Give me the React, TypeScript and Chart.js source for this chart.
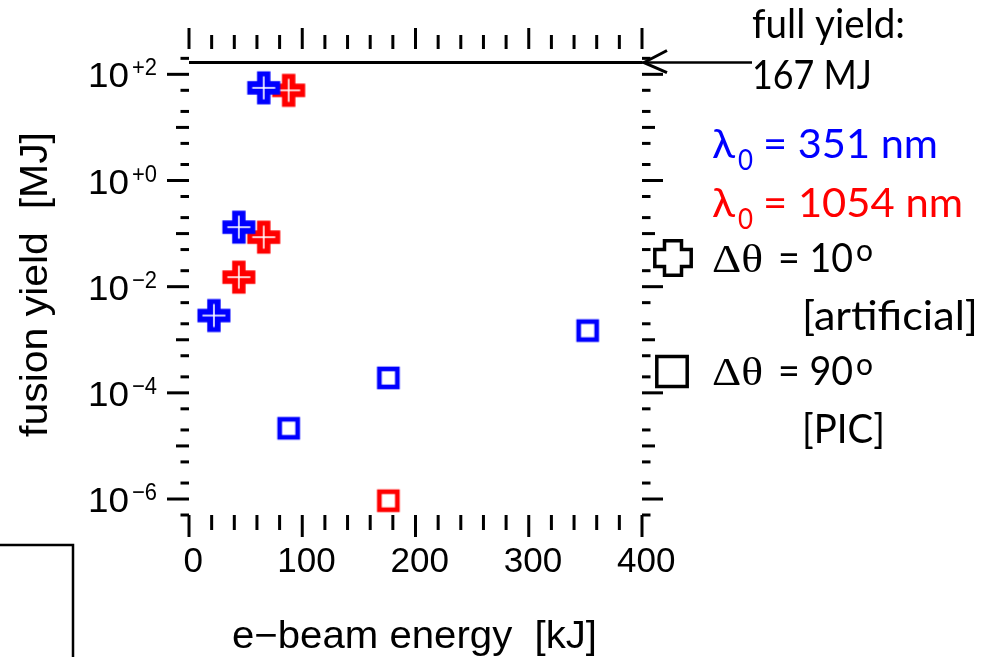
import React, { useEffect, useRef } from "react";
import { Chart, registerables } from "chart.js";

Chart.register(...registerables);

// ---- axis ranges & ticks ----
const X_MIN = 0;
const X_MAX = 400;
const Y_MIN = 5e-7;
const Y_MAX = 300;
const X_LABEL_TICKS = [0, 100, 200, 300, 400];
const X_LABELS = ["0", "100", "200", "300", "400"];
const X_MINOR_TICKS = [20, 40, 60, 80, 120, 140, 160, 180, 220, 240, 260, 280, 320, 340, 360, 380];
const Y_LABEL_TICKS = [1e2, 1e0, 1e-2, 1e-4, 1e-6];
const Y_LABEL_EXP = ["+2", "+0", "\u22122", "\u22124", "\u22126"];
const Y_DECADE_TICKS = [1e1, 1e-1, 1e-3, 1e-5];
const Y_MINOR_TICKS = [200, 50, 20, 5, 2, 0.5, 0.2, 0.05, 0.02, 5e-3, 2e-3, 5e-4, 2e-4, 5e-5, 2e-5, 5e-6, 2e-6, 5e-7];

// ---- data (x: e-beam energy kJ, y: fusion yield MJ) ----
const BLUE_CROSS_X = [22, 44, 66];
const BLUE_CROSS_Y = [0.00286, 0.132, 55.6];
const RED_CROSS_X = [44, 66, 88];
const RED_CROSS_Y = [0.0151, 0.0857, 49.9];
const BLUE_SQUARE_X = [88, 176, 352];
const BLUE_SQUARE_Y = [2.15e-5, 1.91e-4, 1.49e-3];
const RED_SQUARE_X = [176];
const RED_SQUARE_Y = [9.3e-7];
const FULL_YIELD = 167;
const FULL_YIELD_X = [0, 400];

const BLUE = "#0000ff";
const RED = "#ff0000";
const SANS = "'Liberation Sans', Arial, Helvetica, sans-serif";
const CAL = "Lato, 'Noto Sans', sans-serif";
const SERIF = "'Liberation Serif', 'Times New Roman', serif";

const pts = (xs: number[], ys: number[]) => xs.map((x, i) => ({ x, y: ys[i] }));

function makeCross(color: string) {
  const c = document.createElement("canvas");
  c.width = 36;
  c.height = 36;
  const g = c.getContext("2d")!;
  const m = 18, L = 16.5, a = 6.7;
  g.fillStyle = color;
  g.beginPath();
  g.moveTo(m - a, m - L); g.lineTo(m + a, m - L); g.lineTo(m + a, m - a); g.lineTo(m + L, m - a);
  g.lineTo(m + L, m + a); g.lineTo(m + a, m + a); g.lineTo(m + a, m + L); g.lineTo(m - a, m + L);
  g.lineTo(m - a, m + a); g.lineTo(m - L, m + a); g.lineTo(m - L, m - a); g.lineTo(m - a, m - a);
  g.closePath();
  g.fill();
  g.fillStyle = "#ffffff";
  g.fillRect(m - 11.5, m - 0.8, 23, 1.6);
  g.fillRect(m - 0.8, m - 11.5, 1.6, 23);
  return c;
}

function makeSquare(color: string) {
  const c = document.createElement("canvas");
  c.width = 26;
  c.height = 26;
  const g = c.getContext("2d")!;
  g.strokeStyle = color;
  g.lineWidth = 4.7;
  g.strokeRect(13 - 9, 13 - 9, 18, 18);
  return c;
}

function fitText(ctx: CanvasRenderingContext2D, s: string, x: number, y: number, font: string, color: string, width?: number) {
  ctx.save();
  ctx.font = font;
  ctx.fillStyle = color;
  ctx.textAlign = "left";
  ctx.textBaseline = "alphabetic";
  ctx.translate(x, y);
  if (width) {
    const w = ctx.measureText(s).width;
    ctx.scale(width / w, 1);
  }
  ctx.fillText(s, 0, 0);
  ctx.restore();
}

const decorPlugin = {
  id: "decor",
  afterDraw(chart: any) {
    const ctx: CanvasRenderingContext2D = chart.ctx;
    const xs = chart.scales.x;
    const ys = chart.scales.y;
    const { left, right, top, bottom } = chart.chartArea;
    ctx.save();
    ctx.strokeStyle = "#000";
    ctx.lineCap = "butt";
    ctx.lineWidth = 3;
    const seg = (x1: number, y1: number, x2: number, y2: number) => {
      ctx.beginPath();
      ctx.moveTo(x1, y1);
      ctx.lineTo(x2, y2);
      ctx.stroke();
    };
    // x ticks (top & bottom, outward)
    X_LABEL_TICKS.forEach((v) => {
      const p = xs.getPixelForValue(v);
      seg(p, top, p, top - 21);
      seg(p, bottom, p, bottom + 22);
    });
    X_MINOR_TICKS.forEach((v) => {
      const p = xs.getPixelForValue(v);
      seg(p, top, p, top - 14);
      seg(p, bottom, p, bottom + 15);
    });
    // y ticks (left & right, outward)
    Y_LABEL_TICKS.forEach((v) => {
      const p = ys.getPixelForValue(v);
      seg(left, p, left - 22, p);
      seg(right, p, right + 21, p);
    });
    Y_DECADE_TICKS.forEach((v) => {
      const p = ys.getPixelForValue(v);
      seg(left, p, left - 13, p);
      seg(right, p, right + 13, p);
    });
    Y_MINOR_TICKS.forEach((v) => {
      const p = ys.getPixelForValue(v);
      seg(left, p, left - 8.5, p);
      seg(right, p, right + 8.5, p);
    });

    // x tick labels
    ctx.font = `35px ${SANS}`;
    ctx.fillStyle = "#000";
    ctx.textAlign = "center";
    ctx.textBaseline = "alphabetic";
    X_LABEL_TICKS.forEach((v, i) => {
      ctx.fillText(X_LABELS[i], xs.getPixelForValue(v) + 4.2, 572);
    });
    // y tick labels 10^n
    Y_LABEL_TICKS.forEach((v, i) => {
      const p = ys.getPixelForValue(v);
      fitText(ctx, "10", 88, p + 13, `35px ${SANS}`, "#000", 41);
      fitText(ctx, Y_LABEL_EXP[i], 132, p + 1, `24px ${SANS}`, "#000", 25);
    });

    // axis titles
    fitText(ctx, "e\u2212beam energy  [kJ]", 232, 648, `38px ${SANS}`, "#000", 365);
    ctx.save();
    ctx.translate(47, 437);
    ctx.rotate(-Math.PI / 2);
    fitText(ctx, "fusion yield  [MJ]", 0, 0, `38px ${SANS}`, "#000", 305);
    ctx.restore();

    // full yield arrow (outside plot)
    const yy = ys.getPixelForValue(FULL_YIELD);
    ctx.lineWidth = 2.5;
    seg(right, yy, 752, yy);
    ctx.lineWidth = 3;
    ctx.lineJoin = "miter";
    ctx.beginPath();
    ctx.moveTo(667, yy - 12);
    ctx.lineTo(right + 2, yy);
    ctx.lineTo(667, yy + 10);
    ctx.stroke();

    // annotation & legend text
    fitText(ctx, "full yield:", 752, 38, `40px ${CAL}`, "#000", 153);
    fitText(ctx, "167 MJ", 752, 89, `40px ${CAL}`, "#000", 120);

    fitText(ctx, "\u03bb", 712, 158, `40px ${CAL}`, BLUE, 23);
    fitText(ctx, "0", 738, 170, `28px ${CAL}`, BLUE, 15);
    fitText(ctx, "= 351 nm", 763, 158, `40px ${CAL}`, BLUE, 175);

    fitText(ctx, "\u03bb", 712, 216.5, `40px ${CAL}`, RED, 23);
    fitText(ctx, "0", 738, 228.5, `28px ${CAL}`, RED, 15);
    fitText(ctx, "= 1054 nm", 763, 216.5, `40px ${CAL}`, RED, 200);

    fitText(ctx, "\u0394\u03b8", 712, 271.5, `40px ${SERIF}`, "#000", 51);
    fitText(ctx, "= 10", 778, 271.5, `40px ${CAL}`, "#000", 75);
    fitText(ctx, "o", 856, 261, `30px ${CAL}`, "#000", 17);
    fitText(ctx, "[artificial]", 802, 330, `40px ${CAL}`, "#000", 176);

    fitText(ctx, "\u0394\u03b8", 712, 385, `40px ${SERIF}`, "#000", 51);
    fitText(ctx, "= 90", 778, 385, `40px ${CAL}`, "#000", 75);
    fitText(ctx, "o", 856, 374.5, `30px ${CAL}`, "#000", 17);
    fitText(ctx, "[PIC]", 802, 443, `40px ${CAL}`, "#000", 83);

    // legend symbols
    ctx.lineWidth = 3.5;
    ctx.lineJoin = "miter";
    const cx = 673, cy = 258, Lx = 18.2, Ly = 17.2, a = 8.5;
    ctx.beginPath();
    ctx.moveTo(cx - a, cy - Ly); ctx.lineTo(cx + a, cy - Ly); ctx.lineTo(cx + a, cy - a); ctx.lineTo(cx + Lx, cy - a);
    ctx.lineTo(cx + Lx, cy + a); ctx.lineTo(cx + a, cy + a); ctx.lineTo(cx + a, cy + Ly); ctx.lineTo(cx - a, cy + Ly);
    ctx.lineTo(cx - a, cy + a); ctx.lineTo(cx - Lx, cy + a); ctx.lineTo(cx - Lx, cy - a); ctx.lineTo(cx - a, cy - a);
    ctx.closePath();
    ctx.stroke();
    ctx.strokeRect(672 - 15.2, 371.5 - 15, 30.4, 30);

    // stray frame fragment at bottom-left
    ctx.lineWidth = 2.5;
    ctx.beginPath();
    ctx.moveTo(0, 545);
    ctx.lineTo(73, 545);
    ctx.lineTo(73, 657);
    ctx.stroke();

    ctx.restore();
  },
};

export default function App() {
  const ref = useRef<HTMLCanvasElement | null>(null);
  useEffect(() => {
    if (!ref.current) return;
    const blueCross = makeCross(BLUE);
    const redCross = makeCross(RED);
    const blueSquare = makeSquare(BLUE);
    const redSquare = makeSquare(RED);
    const chart = new Chart(ref.current, {
      type: "scatter",
      data: {
        datasets: [
          {
            type: "line",
            label: "full yield: 167 MJ",
            data: pts(FULL_YIELD_X, FULL_YIELD_X.map(() => FULL_YIELD)),
            borderColor: "#000",
            borderWidth: 3,
            pointRadius: 0,
            fill: false,
          } as any,
          { label: "λ0 = 351 nm, Δθ = 10°", data: pts(BLUE_CROSS_X, BLUE_CROSS_Y), pointStyle: blueCross as any, pointRadius: 10 },
          { label: "λ0 = 1054 nm, Δθ = 10°", data: pts(RED_CROSS_X, RED_CROSS_Y), pointStyle: redCross as any, pointRadius: 10 },
          { label: "λ0 = 351 nm, Δθ = 90°", data: pts(BLUE_SQUARE_X, BLUE_SQUARE_Y), pointStyle: blueSquare as any, pointRadius: 10 },
          { label: "λ0 = 1054 nm, Δθ = 90°", data: pts(RED_SQUARE_X, RED_SQUARE_Y), pointStyle: redSquare as any, pointRadius: 10 },
        ],
      },
      options: {
        animation: false,
        responsive: false,
        devicePixelRatio: 1,
        events: [],
        layout: { padding: { left: 189, top: 49, right: 354, bottom: 142 } },
        plugins: { legend: { display: false }, tooltip: { enabled: false } },
        scales: {
          x: { type: "linear", min: X_MIN, max: X_MAX, display: false },
          y: { type: "logarithmic", min: Y_MIN, max: Y_MAX, display: false },
        },
      },
      plugins: [decorPlugin],
    });
    return () => chart.destroy();
  }, []);
  return (
    <div style={{ position: "fixed", left: 0, top: 0, width: 996, height: 657, background: "#fff" }}>
      <canvas ref={ref} width={996} height={657} style={{ display: "block" }} />
    </div>
  );
}
